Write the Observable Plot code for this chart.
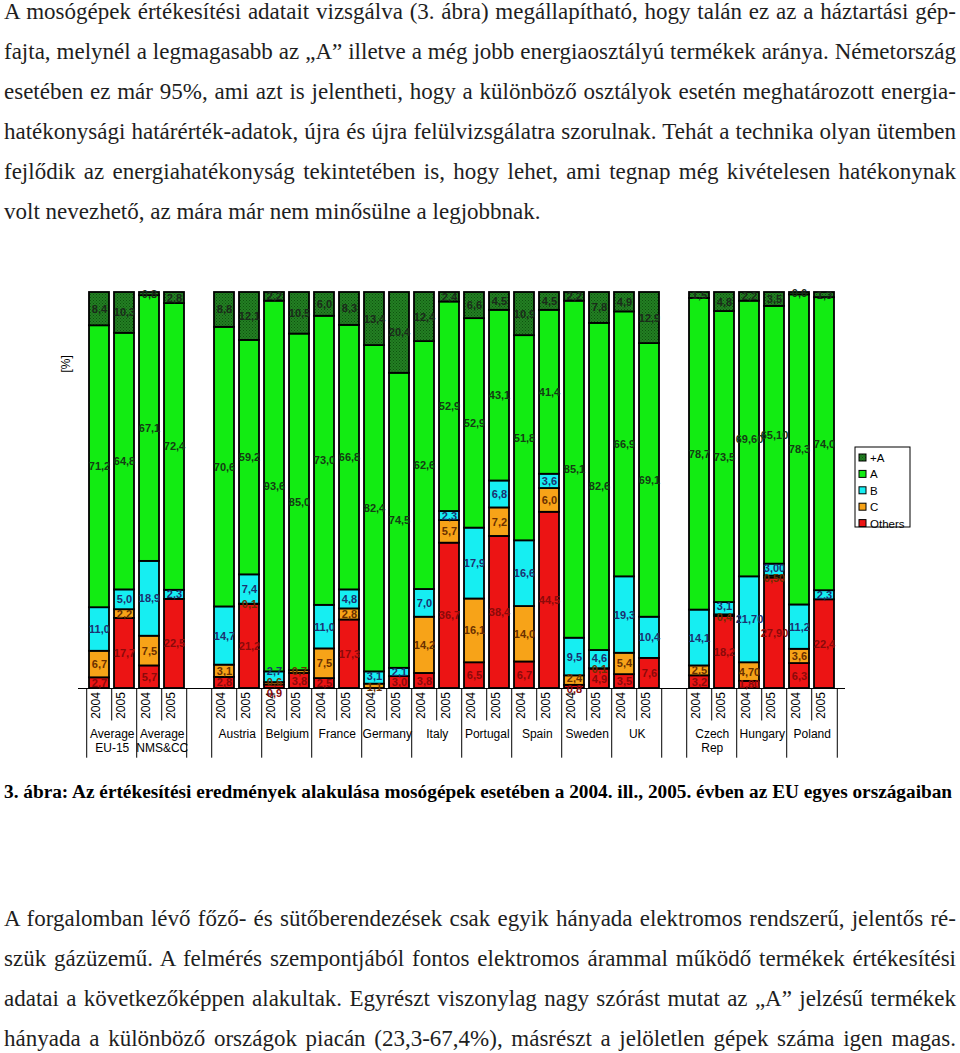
<!DOCTYPE html>
<html><head><meta charset="utf-8">
<script src="https://cdn.jsdelivr.net/npm/d3@7"></script>
<script src="https://cdn.jsdelivr.net/npm/@observablehq/plot@0.6"></script>
<style>
html,body{margin:0;padding:0;background:#fff;}
body{width:960px;height:1053px;overflow:hidden;position:relative;font-family:"Liberation Serif","Times New Roman",serif;}
.para{position:absolute;left:4px;width:952px;color:#1e1e1e;font-size:23px;}
.para div{height:40px;line-height:40px;text-align:justify;text-align-last:justify;white-space:normal;}
.para div.last{text-align:left;text-align-last:left;}
#caption{position:absolute;left:4px;top:779px;width:960px;font-weight:bold;font-size:19.3px;line-height:26px;color:#000;white-space:nowrap;}
#chart{position:absolute;left:0;top:270px;}
</style></head>
<body>
<div class="para" id="p1" style="top:-8px">
<div>A mosógépek értékesítési adatait vizsgálva (3. ábra) megállapítható, hogy talán ez az a háztartási gép-</div>
<div>fajta, melynél a legmagasabb az „A” illetve a még jobb energiaosztályú termékek aránya. Németország</div>
<div>esetében ez már 95%, ami azt is jelentheti, hogy a különböző osztályok esetén meghatározott energia-</div>
<div>hatékonysági határérték-adatok, újra és újra felülvizsgálatra szorulnak. Tehát a technika olyan ütemben</div>
<div>fejlődik az energiahatékonyság tekintetében is, hogy lehet, ami tegnap még kivételesen hatékonynak</div>
<div class="last">volt nevezhető, az mára már nem minősülne a legjobbnak.</div>
</div>
<div id="chart"></div>
<div id="caption">3. ábra: Az értékesítési eredmények alakulása mosógépek esetében a 2004. ill., 2005. évben az EU egyes országaiban</div>
<div class="para" id="p2" style="top:899px">
<div>A forgalomban lévő főző- és sütőberendezések csak egyik hányada elektromos rendszerű, jelentős ré-</div>
<div>szük gázüzemű. A felmérés szempontjából fontos elektromos árammal működő termékek értékesítési</div>
<div>adatai a következőképpen alakultak. Egyrészt viszonylag nagy szórást mutat az „A” jelzésű termékek</div>
<div>hányada a különböző országok piacán (23,3-67,4%), másrészt a jelöletlen gépek száma igen magas.</div>
</div>
<script>
// ---- data ----
const countries = ["Average\nEU-15","Average\nNMS&CC","Austria","Belgium","France","Germany","Italy","Portugal","Spain","Sweden","UK","Czech\nRep","Hungary","Poland"];
const years = ["2004","2005"];
const seriesKeys = ["+A","A","B","C","Others"];
const plusA  = [8.4,10.3, 0.8,2.8, 8.8,12.1, 2.2,10.5, 6.0,8.3, 13.4,20.4, 12.4,2.4, 6.6,4.5, 10.9,4.5, 2.2,7.8, 4.9,12.9, 1.5,4.8, 2.2,3.5, 0.6,1.3];
const gradeA = [71.2,64.8, 67.1,72.4, 70.6,59.2, 93.6,85.0, 73.0,66.8, 82.4,74.5, 62.6,52.9, 52.9,43.1, 51.8,41.4, 85.1,82.6, 66.9,69.1, 78.7,73.5, 69.6,65.1, 78.3,74.0];
const gradeB = [11.0,5.0, 18.9,2.3, 14.7,7.4, 2.7,0.0, 11.0,4.8, 3.1,2.1, 7.0,2.3, 17.9,6.8, 16.6,3.6, 9.5,4.6, 19.3,10.4, 14.1,3.1, 21.7,3.0, 11.2,2.3];
const gradeC = [6.7,2.2, 7.5,0.0, 3.1,0.1, 0.6,0.7, 7.5,2.8, 1.1,0.0, 14.2,5.7, 16.1,7.2, 14.0,6.0, 2.4,0.1, 5.4,0.0, 2.5,0.4, 4.7,0.5, 3.6,0.0];
const others = [2.7,17.7, 5.7,22.5, 2.8,21.2, 0.9,3.8, 2.5,17.3, 0.0,3.0, 3.8,36.7, 6.5,38.4, 6.7,44.5, 0.8,4.9, 3.5,7.6, 3.2,18.2, 1.8,27.9, 6.3,22.4];
// groups of countries (separated by an empty slot)
const groupSizes = [2, 9, 3];

// ---- layout of slots ----
const slotCountry = [];
const slotYear = [];
let ci = 0;
groupSizes.forEach((g, gi) => {
  if (gi > 0) { slotCountry.push(""); slotYear.push(""); }
  for (let k = 0; k < g; k++, ci++) for (const y of years) { slotCountry.push(countries[ci]); slotYear.push(y); }
});
const nSlots = slotCountry.length;
const barSlots = d3.range(nSlots).filter(i => slotCountry[i] !== "");

const arrays = {"+A": plusA, "A": gradeA, "B": gradeB, "C": gradeC, "Others": others};
const stackOrder = ["Others","C","B","A","+A"];
const rows = [];
barSlots.forEach((s, i) => {
  let base = 0;
  const barRows = [];
  for (const k of stackOrder) {
    const v = arrays[k][i];
    const r = {slot: s, key: k, v, y1: base, y2: base + v, ly: base + v / 2, hu: slotCountry[s] === "Hungary"};
    rows.push(r);
    if (v > 0) barRows.push(r);
    base += v;
  }
  // spread labels of thin neighbouring segments so they do not sit on each other
  const gap = 2.7;
  let clusters = barRows.map(r => ({items: [r], c: r.ly}));
  let changed = true;
  const pos = cl => cl.items.map((r, j) => cl.c + (j - (cl.items.length - 1) / 2) * gap);
  while (changed) {
    changed = false;
    for (let j = 0; j < clusters.length - 1; j++) {
      const a = clusters[j], b = clusters[j + 1];
      const pa = pos(a), pb = pos(b);
      if (pb[0] - pa[pa.length - 1] < gap) {
        const items = a.items.concat(b.items);
        const c = d3.mean(items, r => r.ly);
        clusters.splice(j, 2, {items, c});
        changed = true; break;
      }
    }
  }
  for (const cl of clusters) pos(cl).forEach((p, j) => cl.items[j].ly = p);
});
const fmt = d => (d.hu && d.key !== "+A" ? d.v.toFixed(2) : d.v.toFixed(1)).replace(".", ",");
const fills = ["url(#dotsA)", "#12ec12", "#16eef2", "#f7a318", "#ec1414"];
const labelFill = {"+A": "#1a2a1a", "A": "#143c14", "B": "#1c3070", "C": "#6a3000", "Others": "#8a0a0a"};

const W = 960, H = 500, mL = 78, mR = 115, mT = 22, mB = 82;
const step = (W - mL - mR) / nSlots;

const countryStarts = [];
for (let i = 0; i < nSlots; i++) if (slotCountry[i] && slotCountry[i] !== slotCountry[i-1]) countryStarts.push({slot: i, name: slotCountry[i]});

const bounds = d3.range(nSlots + 1).map(b => {
  const a = slotCountry[b-1], c = slotCountry[b];
  const tall = b === 0 || b === nSlots || a === "" || c === "" || a !== c;
  return {b, tall};
});

const marks = [
  Plot.barY(rows.filter(d => d.v > 0), {x: "slot", y1: "y1", y2: "y2", fill: "key", stroke: "#000", strokeWidth: 1.8}),
  Plot.ruleY([0], {stroke: "#000", strokeWidth: 1.2}),
  Plot.ruleX(bounds.filter(d => d.b < nSlots), {x: d => d.b, dx: -step/2, y1: 0, y2: d => d.tall ? -17.6 : -8.2, stroke: "#000", strokeWidth: 1}),
  Plot.ruleX(bounds.filter(d => d.b === nSlots), {x: d => d.b - 1, dx: step/2, y1: 0, y2: -17.6, stroke: "#000", strokeWidth: 1}),
  Plot.text(barSlots, {x: d => d, frameAnchor: "bottom", dy: 17, text: d => slotYear[d], rotate: -90, fontSize: 12, fill: "#000"}),
  Plot.text(countryStarts, {x: "slot", dx: step/2, frameAnchor: "bottom", dy: 40, lineAnchor: "top", text: "name", fontSize: 12, lineHeight: 1.15, fill: "#000"}),
  Plot.text(["[%]"], {frameAnchor: "top-left", dx: -17, dy: 80, rotate: -90, fontSize: 12, fill: "#000"})
];
for (const k of seriesKeys) {
  marks.push(Plot.text(rows.filter(d => d.key === k && d.v > 0), {x: "slot", y: "ly", text: fmt, fill: labelFill[k], fontSize: 11, fontWeight: "bold"}));
}

const svg = Plot.plot({
  width: W, height: H, marginLeft: mL, marginRight: mR, marginTop: mT, marginBottom: mB,
  style: {fontFamily: "'Liberation Sans', Arial, sans-serif", background: "#fff", overflow: "visible"},
  x: {type: "band", domain: d3.range(nSlots), paddingInner: 0.22, paddingOuter: 0.11, axis: null},
  y: {domain: [0, 100], axis: null},
  color: {type: "ordinal", domain: seriesKeys, range: fills},
  marks
});

// dotted texture for the "+A" class
const s = d3.select(svg);
const pat = s.insert("defs", ":first-child").append("pattern").attr("id", "dotsA").attr("patternUnits", "userSpaceOnUse").attr("width", 3).attr("height", 3);
pat.append("rect").attr("width", 3).attr("height", 3).attr("fill", "#237f23");
pat.append("rect").attr("width", 1).attr("height", 1).attr("fill", "#0e520e");
pat.append("rect").attr("x", 1.5).attr("y", 1.5).attr("width", 1).attr("height", 1).attr("fill", "#0e520e");

// legend
const lg = s.append("g").attr("transform", "translate(855,177)").attr("text-anchor", "start");
lg.append("rect").attr("width", 55).attr("height", 80).attr("fill", "#fff").attr("stroke", "#000").attr("stroke-width", 1);
seriesKeys.forEach((k, i) => {
  const g = lg.append("g").attr("transform", `translate(4,${7 + i * 16.4})`);
  g.append("rect").attr("width", 7).attr("height", 7).attr("fill", fills[i]).attr("stroke", "#000").attr("stroke-width", 1);
  g.append("text").attr("x", 11).attr("y", 4).attr("dy", "0.35em").attr("font-size", 11.5).attr("fill", "#000").attr("text-anchor", "start").text(k);
});

document.getElementById("chart").appendChild(svg);

// keep each printed line on one line
document.querySelectorAll(".para div").forEach(div => {
  let fs = 23;
  while (div.scrollHeight > 41 && fs > 16) { fs -= 0.25; div.style.fontSize = fs + "px"; }
});
</script>
</body></html>
